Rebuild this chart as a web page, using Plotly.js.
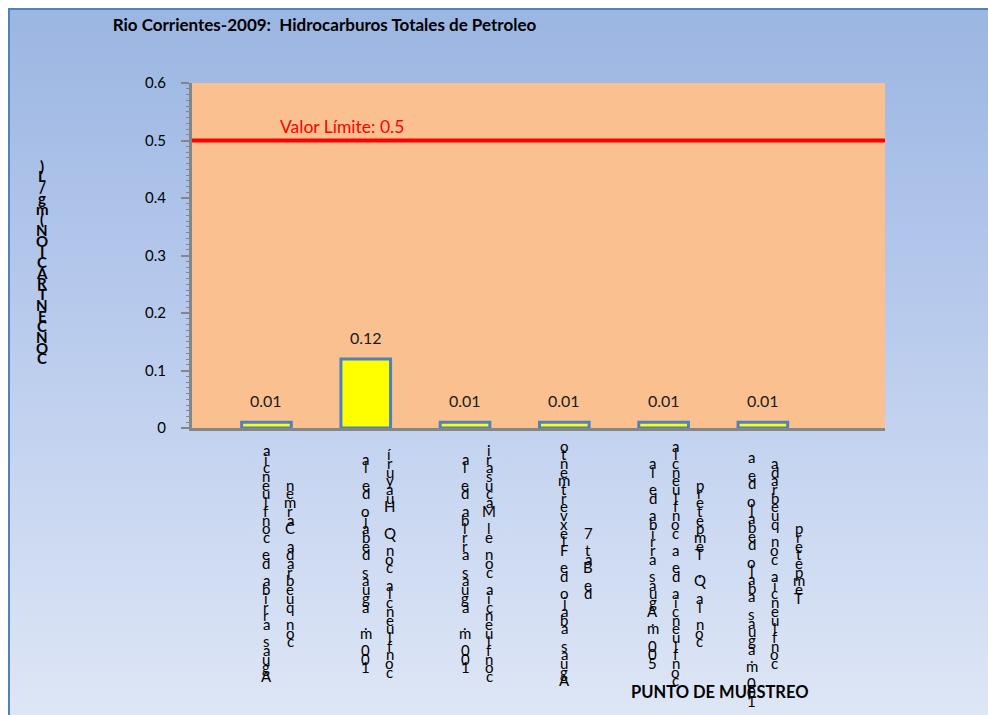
<!DOCTYPE html>
<html><head><meta charset="utf-8">
<script src="https://cdn.plot.ly/plotly-3.0.1.min.js"></script>
<style>
html,body{margin:0;padding:0;background:#fff;width:988px;height:715px;overflow:hidden;}
#frame{position:absolute;left:8px;top:8px;width:1000px;height:720px;border:2px solid #4f81bd;box-sizing:border-box;background:linear-gradient(to bottom,#9bb6e2 0%,#b6c9ec 40%,#dfe7f6 100%);}
#chart{position:absolute;left:0;top:0;width:988px;height:715px;}
</style></head><body>
<div id="frame"></div><div id="chart"></div>
<script>
// ---- data ----
const categories = [
  ["Aguas arriba de confluencia", "con quebrada Carmen"],
  ["100 m. aguas debajo de la", "confluencia con Q. Huayurí"],
  ["100 m. aguas arriba de la", "confluencia con el Macusari"],
  ["Aguas abajo de Flexvertmento", "de Bat 7"],
  ["500 m.Aguas arriba de la", "confluencia de a confluencia", "con la Q. Tempeterp"],
  ["100 m.aguas abajo debajo de a", "confluencia con quebrada", "Tempeterp"]
];
const values = [0.01, 0.12, 0.01, 0.01, 0.01, 0.01];
const valueLabels = ["0.01", "0.12", "0.01", "0.01", "0.01", "0.01"];
const limitValue = 0.5;
const limitLabel = "Valor Límite: 0.5";
const yTickVals = [0, 0.1, 0.2, 0.3, 0.4, 0.5, 0.6];
const yTickText = ["0", "0.1", "0.2", "0.3", "0.4", "0.5", "0.6"];
const chartTitle = "Rio Corrientes-2009:  Hidrocarburos Totales de Petroleo";
const yTitle = "CONCENTRACION(mg/L)";
const xTitle = "PUNTO DE MUESTREO";

// ---- layout helpers ----
const catKeys = categories.map(c => c.join(" "));
const FONT = "Lato, 'Open Sans', sans-serif";
const annotations = [];

// stacked, bottom-to-top tick labels
const plotBottom = 428, labelCenter = 563, step = 8.7;
categories.forEach((cols, i) => {
  const offs = cols.length === 3 ? [-11, 12, 36] : [0, 24];
  cols.forEach((line, j) => {
    const chars = Array.from(line).reverse();
    const n = chars.length;
    const center = (i === 5 && j === 0) ? labelCenter + 16 : labelCenter;
    chars.forEach((ch, k) => {
      if (ch === " ") return;
      const py = center + (k - (n - 1) / 2) * step;
      annotations.push({
        x: catKeys[i], xref: "x", y: 0, yref: "paper",
        xanchor: "center", yanchor: "middle",
        xshift: offs[j], yshift: -(py - plotBottom),
        text: ch, showarrow: false,
        font: {family: FONT, size: 15, color: "#000"}
      });
    });
  });
});

// stacked y title
(() => {
  const chars = Array.from(yTitle).reverse();
  const n = chars.length, s = 10.7, c = 262;
  chars.forEach((ch, k) => {
    const py = c + (k - (n - 1) / 2) * s;
    annotations.push({
      x: 0, xref: "paper", y: 0, yref: "paper",
      xanchor: "center", yanchor: "middle",
      xshift: -150, yshift: -(py - plotBottom),
      text: "<b>" + ch + "</b>", showarrow: false,
      font: {family: FONT, size: 15, color: "#000"}
    });
  });
})();

// value labels
values.forEach((v, i) => {
  annotations.push({
    x: catKeys[i], xref: "x", y: v, yref: "y",
    xanchor: "center", yanchor: "bottom", yshift: 10,
    text: valueLabels[i], showarrow: false,
    font: {family: FONT, size: 16, color: "#1a1a1a"}
  });
});

// limit label
annotations.push({
  x: 0.216, xref: "paper", y: limitValue, yref: "y",
  xanchor: "center", yanchor: "bottom", yshift: 2,
  text: limitLabel, showarrow: false,
  font: {family: FONT, size: 17.5, color: "#ff0000"}
});

// x title
annotations.push({
  x: 0, xref: "paper", y: 0, yref: "paper",
  xanchor: "center", yanchor: "middle", xshift: 528, yshift: -264,
  text: "<b>" + xTitle + "</b>", showarrow: false,
  font: {family: FONT, size: 16.5, color: "#000"}
});

const trace = {
  type: "bar", x: catKeys, y: values, width: 0.5,
  marker: {color: "#ffff00", line: {color: "#4f81bd", width: 3}},
  hoverinfo: "skip"
};

const layout = {
  width: 988, height: 715,
  margin: {l: 192, r: 103, t: 83, b: 287, pad: 0},
  paper_bgcolor: "rgba(0,0,0,0)",
  plot_bgcolor: "#fac090",
  showlegend: false,
  title: {
    text: "<b>" + chartTitle + "</b>",
    xref: "container", yref: "container", x: 0.114, xanchor: "left",
    y: 0.965, yanchor: "middle",
    font: {family: FONT, size: 17, color: "#000"}
  },
  xaxis: {
    type: "category", range: [-0.75, 6.23],
    showticklabels: false, ticks: "", showgrid: false, zeroline: false,
    showline: true, linecolor: "#868686", linewidth: 3, fixedrange: true
  },
  yaxis: {
    range: [0, 0.6], tickvals: yTickVals, ticktext: yTickText,
    ticks: "outside", ticklen: 8, tickwidth: 2, tickcolor: "#868686",
    minor: {dtick: 0.01, ticks: "outside", ticklen: 3, tickwidth: 1, tickcolor: "#868686"},
    showline: true, linecolor: "#868686", linewidth: 3,
    showgrid: false, zeroline: false, ticklabelstandoff: 12,
    tickfont: {family: FONT, size: 15, color: "#000"}, fixedrange: true
  },
  shapes: [{
    type: "line", xref: "paper", x0: 0, x1: 1, yref: "y", y0: limitValue, y1: limitValue,
    line: {color: "#ff0000", width: 4}
  }],
  annotations: annotations
};

Plotly.newPlot("chart", [trace], layout, {displayModeBar: false, staticPlot: true});
</script>
</body></html>
